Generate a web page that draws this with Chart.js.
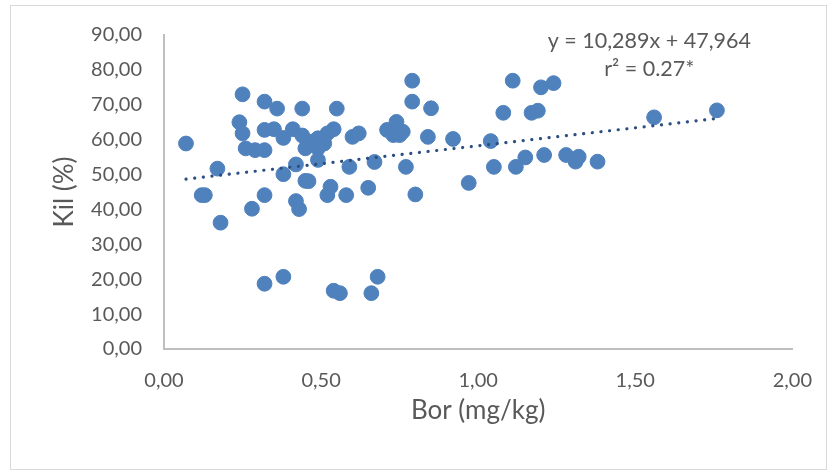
<!DOCTYPE html>
<html>
<head>
<meta charset="utf-8">
<script src="https://cdn.jsdelivr.net/npm/chart.js@4.4.1/dist/chart.umd.min.js"></script>
<style>
    body { margin: 0; background: #fff; }
    #wrap { position: relative; width: 832px; height: 471px; }
    #frame { position: absolute; left: 10px; top: 5px; width: 815px; height: 463px; border: 1px solid #d9d9d9; }
    canvas { position: absolute; left: 0; top: 0; }
</style>
</head>
<body>
<div id="wrap">
    <div id="frame"></div>
    <canvas id="borChart" width="832" height="471"></canvas>
</div>
<script>
// Bor (mg/kg) vs Kil (%)
const borValues = [
    0.07, 0.25, 0.32, 0.36, 0.44, 0.55, 0.24, 0.25, 0.32, 0.35,
    0.38, 0.41, 0.44, 0.45, 0.26, 0.29, 0.32, 0.49, 0.54, 0.60,
    0.62, 0.59, 0.67, 0.17, 0.38, 0.42, 0.45, 0.46, 0.12, 0.13,
    0.32, 0.28, 0.42, 0.43, 0.18, 0.53, 0.52, 0.58, 0.65, 0.79,
    0.79, 0.85, 1.11, 1.20, 1.24, 1.08, 1.17, 1.19, 0.71, 0.74,
    0.76, 0.73, 0.75, 0.84, 0.92, 1.04, 0.77, 0.80, 0.97, 1.05,
    1.12, 1.15, 1.21, 1.28, 1.31, 1.32, 1.38, 1.56, 1.76, 0.32,
    0.38, 0.54, 0.56, 0.66, 0.68, 0.47, 0.49, 0.52, 0.51, 0.49
];
const kilValues = [
    58.9, 73.0, 70.9, 68.9, 68.9, 68.9, 65.0, 61.8, 62.8, 63.0,
    60.5, 63.0, 61.2, 57.5, 57.5, 57.0, 57.0, 54.2, 63.0, 60.8,
    61.8, 52.2, 53.6, 51.7, 50.1, 52.9, 48.2, 48.1, 44.1, 44.1,
    44.1, 40.2, 42.4, 40.1, 36.2, 46.5, 44.1, 44.1, 46.2, 76.9,
    70.9, 69.0, 76.9, 75.0, 76.2, 67.7, 67.7, 68.3, 62.8, 65.1,
    62.3, 61.3, 61.3, 60.8, 60.2, 59.6, 52.2, 44.3, 47.6, 52.2,
    52.2, 54.9, 55.6, 55.6, 53.7, 55.1, 53.7, 66.4, 68.4, 18.7,
    20.7, 16.7, 16.0, 16.0, 20.7, 59.4, 60.4, 61.8, 58.9, 57.5
];
const trendSlope = 10.289;
const trendIntercept = 47.964;
const equationLines = ['y = 10,289x + 47,964', 'r\u00B2 = 0.27*'];

const xTicks = [0, 0.5, 1, 1.5, 2];
const yTicks = [0, 10, 20, 30, 40, 50, 60, 70, 80, 90];

const points = borValues.map((b, i) => ({ x: b, y: kilValues[i] }));
const xMin = Math.min(...borValues);
const xMax = Math.max(...borValues);
const trendPoints = [
    { x: xMin, y: trendSlope * xMin + trendIntercept },
    { x: xMax, y: trendSlope * xMax + trendIntercept }
];

const fmt = v => v.toFixed(2).replace('.', ',');
const textColor = '#595959';
const axisColor = '#bfbfbf';

// equation text, placed relative to the plot area
const equationPlugin = {
    id: 'equation',
    afterDatasetsDraw(chart) {
        const { ctx, chartArea } = chart;
        ctx.save();
        ctx.fillStyle = textColor;
        ctx.font = '21.5px Lato';
        ctx.textAlign = 'center';
        ctx.textBaseline = 'middle';
        const cx = chartArea.right - 143;
        ctx.fillText(equationLines[0], cx, chartArea.top + 6);
        ctx.fillText(equationLines[1], cx, chartArea.top + 34);
        ctx.restore();
    }
};

new Chart(document.getElementById('borChart'), {
    type: 'scatter',
    data: {
        datasets: [{
            type: 'line',
            data: trendPoints,
            borderColor: '#2c4f80',
            borderWidth: 3.2,
            borderDash: [0.1, 8.6],
            borderCapStyle: 'round',
            pointRadius: 0,
            fill: false,
            order: 0
        }, {
            data: points,
            backgroundColor: '#4f81bd',
            borderColor: '#4f81bd',
            pointRadius: 7.4,
            pointHoverRadius: 7.4,
            order: 1
        }]
    },
    options: {
        responsive: false,
        animation: false,
        events: [],
        layout: { padding: { top: 35, right: 39, left: 0, bottom: 0 } },
        plugins: {
            legend: { display: false },
            tooltip: { enabled: false }
        },
        scales: {
            x: {
                type: 'linear',
                min: 0,
                max: 2,
                afterBuildTicks: axis => { axis.ticks = xTicks.map(v => ({ value: v })); },
                afterFit: axis => { axis.height = 122; },
                grid: { display: false, drawTicks: false },
                border: { display: true, color: axisColor, width: 2 },
                ticks: {
                    padding: 20,
                    color: textColor,
                    font: { family: 'Lato', size: 20 },
                    callback: v => fmt(v)
                },
                title: {
                    display: true,
                    text: 'Bor (mg/kg)',
                    color: textColor,
                    font: { family: 'Lato', size: 26 },
                    padding: { top: 0, bottom: 45 }
                }
            },
            y: {
                min: 0,
                max: 90,
                afterBuildTicks: axis => { axis.ticks = yTicks.map(v => ({ value: v })); },
                afterFit: axis => { axis.width = 164; },
                grid: { display: false, drawTicks: false },
                border: { display: true, color: axisColor, width: 2 },
                ticks: {
                    padding: 22,
                    color: textColor,
                    font: { family: 'Lato', size: 20 },
                    callback: v => fmt(v)
                },
                title: {
                    display: true,
                    text: 'Kil (%)',
                    color: textColor,
                    font: { family: 'Lato', size: 26 },
                    padding: { top: 49, bottom: 0 }
                }
            }
        }
    },
    plugins: [equationPlugin]
});
</script>
</body>
</html>
